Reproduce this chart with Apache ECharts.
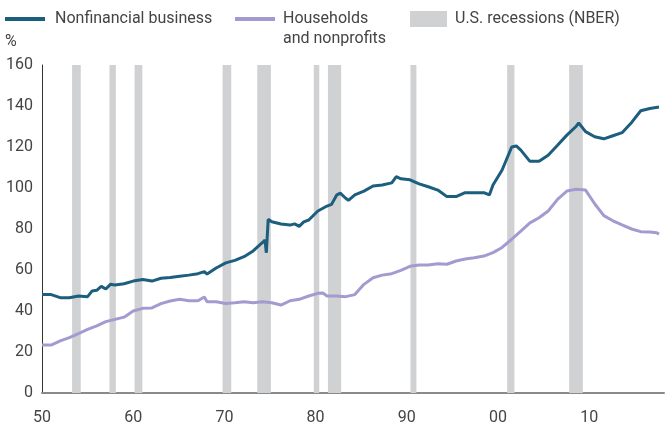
<!DOCTYPE html>
<html>
<head>
<meta charset="utf-8">
<script src="https://cdn.jsdelivr.net/npm/echarts@6/dist/echarts.min.js"></script>
<style>
  html, body { margin: 0; padding: 0; background: #fff; }
  #chart { width: 667px; height: 439px; }
</style>
</head>
<body>
<div id="chart"></div>
<script>
// [year, % of GDP]
var nonfinancial = [
  [1950, 48], [1951, 48], [1952, 46.5], [1953, 46.5], [1954, 47.3], [1955, 47], [1955.5, 49.8],
  [1956, 50.1], [1956.5, 52], [1957, 50.7], [1957.5, 53], [1958, 52.7], [1959, 53.3], [1960, 54.6],
  [1961.05, 55.4], [1962.05, 54.6], [1963.05, 56], [1964.05, 56.3], [1965.1, 57], [1966.1, 57.5],
  [1967.1, 58.2], [1967.8, 59.2], [1968.1, 58], [1969.1, 61], [1970.15, 63.5], [1971.15, 64.7],
  [1972.15, 66.5], [1973.15, 69.3], [1974.15, 73.3], [1974.45, 74.6], [1974.6, 68.4], [1974.8, 84.7],
  [1975.2, 83.5], [1976.2, 82.4], [1977.2, 81.9], [1977.7, 82.5], [1978.2, 81.3], [1978.7, 83.5],
  [1979.25, 84.4], [1980.25, 88.8], [1981.25, 91.2], [1981.75, 92], [1982.3, 96.5], [1982.7, 97.5],
  [1983.3, 95], [1983.6, 94], [1984.3, 96.6], [1985.3, 98.5], [1986.3, 101], [1987.3, 101.5],
  [1988.35, 102.5], [1988.85, 105.5], [1989.35, 104.5], [1990.35, 104], [1991.35, 102], [1992.35, 100.6],
  [1993.4, 99], [1994.4, 95.8], [1995.4, 95.8], [1996.4, 97.7], [1997.4, 97.7], [1998.45, 97.7],
  [1999.05, 96.6], [1999.45, 101.5], [2000.45, 108.8], [2001.5, 120], [2002, 120.5], [2002.5, 118.5],
  [2003.5, 113], [2004.5, 113], [2005.5, 116], [2006.55, 121], [2007.55, 125.8], [2008.55, 130],
  [2008.85, 131.7], [2009.6, 127.5], [2010.6, 125], [2011.6, 124], [2012.6, 125.5], [2013.6, 127],
  [2014.65, 132], [2015.65, 137.7], [2016.65, 138.8], [2017.65, 139.5]
];

var households = [
  [1950, 23.4], [1951, 23.4], [1952, 25.4], [1953, 27], [1954, 29], [1955, 31], [1956, 32.7],
  [1957, 34.8], [1958, 35.9], [1959, 37], [1960, 40], [1961.05, 41.3], [1962.05, 41.5], [1963.05, 43.6],
  [1964.05, 44.9], [1965.1, 45.7], [1966.1, 45], [1967.1, 45], [1967.8, 46.8], [1968.1, 44.5],
  [1969.1, 44.5], [1970.15, 43.7], [1971.15, 44], [1972.15, 44.5], [1973.15, 44], [1974.15, 44.5],
  [1975.2, 44], [1976.2, 42.9], [1977.2, 45], [1978.2, 45.7], [1979.25, 47.3], [1980.25, 48.6],
  [1980.8, 48.8], [1981.25, 47.3], [1982.3, 47.3], [1983.3, 47], [1984.3, 48], [1985.3, 53],
  [1986.3, 56.2], [1987.3, 57.5], [1988.35, 58.2], [1989.35, 59.8], [1990.35, 61.8], [1991.35, 62.4],
  [1992.35, 62.4], [1993.4, 63], [1994.4, 62.8], [1995.4, 64.4], [1996.4, 65.4], [1997.4, 66],
  [1998.45, 66.8], [1999.45, 68.5], [2000.45, 71], [2001.5, 75], [2002.5, 79], [2003.5, 83],
  [2004.5, 85.5], [2005.5, 88.8], [2006.55, 94.6], [2007.55, 98.5], [2008.55, 99.4], [2009.6, 99],
  [2010.6, 92.3], [2011.6, 86.5], [2012.6, 84], [2013.6, 82], [2014.65, 80], [2015.65, 78.7],
  [2016.65, 78.5], [2017.4, 78.2], [2017.65, 77.5]
];

// NBER recessions [start, end]
var recessions = [
  [1953.3, 1954.25], [1957.4, 1958.1], [1960.15, 1961], [1969.8, 1970.75], [1973.6, 1975.1],
  [1979.8, 1980.4], [1981.35, 1982.8], [1990.4, 1991.05], [2001, 2001.8], [2007.8, 2009.3]
];

var yTicks = [0, 20, 40, 60, 80, 100, 120, 140, 160];

var FONT = 'Roboto, sans-serif';
var TXT = '#444';
var chart = echarts.init(document.getElementById('chart'));

chart.setOption({
  animation: false,
  textStyle: { fontFamily: FONT },
  title: {
    text: '%',
    left: 5,
    top: 34,
    padding: 0,
    textStyle: { fontFamily: FONT, fontSize: 16, fontWeight: 'normal', color: TXT }
  },
  // second line of the households legend entry
  graphic: [{
    type: 'text',
    left: 283,
    top: 31,
    style: { text: 'and nonprofits', fontFamily: FONT, fontSize: 16, fill: TXT }
  }],
  legend: [
    {
      left: 5, top: 11, padding: 0,
      itemWidth: 40, itemHeight: 4, icon: 'rect',
      data: ['Nonfinancial business'],
      textStyle: { fontFamily: FONT, fontSize: 16, color: TXT, padding: [0, 0, 0, 5] }
    },
    {
      left: 235, top: 11, padding: 0,
      itemWidth: 40, itemHeight: 4, icon: 'rect',
      data: ['Households'],
      textStyle: { fontFamily: FONT, fontSize: 16, color: TXT, padding: [0, 0, 0, 3] }
    },
    {
      left: 410, top: 11, padding: 0,
      itemWidth: 37, itemHeight: 16, icon: 'rect',
      data: ['U.S. recessions (NBER)'],
      textStyle: { fontFamily: FONT, fontSize: 16, color: TXT, padding: [0, 0, 0, 3] }
    }
  ],
  grid: { left: 42, right: 3, top: 65, bottom: 46 },
  xAxis: {
    type: 'value',
    min: 1950,
    max: 2018.2,
    interval: 10,
    axisLine: { lineStyle: { color: '#8a8a8a', width: 2 } },
    axisTick: { show: false },
    splitLine: { show: false },
    axisLabel: {
      showMaxLabel: false,
      margin: 17,
      fontSize: 16,
      color: TXT,
      formatter: function (v) { return String(v).slice(2); }
    }
  },
  yAxis: {
    type: 'value',
    min: yTicks[0],
    max: yTicks[yTicks.length - 1],
    interval: 20,
    axisLine: { show: true, lineStyle: { color: '#333', width: 1 } },
    axisTick: { show: false },
    splitLine: { show: false },
    axisLabel: { fontSize: 16, color: TXT, margin: 9 }
  },
  series: [
    {
      name: 'U.S. recessions (NBER)',
      type: 'line',
      data: [],
      itemStyle: { color: '#d0d1d3' },
      markArea: {
        silent: true,
        itemStyle: { color: '#d0d1d3' },
        data: recessions.map(function (r) { return [{ xAxis: r[0] }, { xAxis: r[1] }]; })
      }
    },
    {
      name: 'Households',
      type: 'line',
      data: households,
      showSymbol: false,
      lineStyle: { color: '#a39bd0', width: 3 },
      itemStyle: { color: '#a39bd0' },
      z: 3
    },
    {
      name: 'Nonfinancial business',
      type: 'line',
      data: nonfinancial,
      showSymbol: false,
      lineStyle: { color: '#1b5e7e', width: 3 },
      itemStyle: { color: '#1b5e7e' },
      z: 4
    }
  ]
});
</script>
</body>
</html>
